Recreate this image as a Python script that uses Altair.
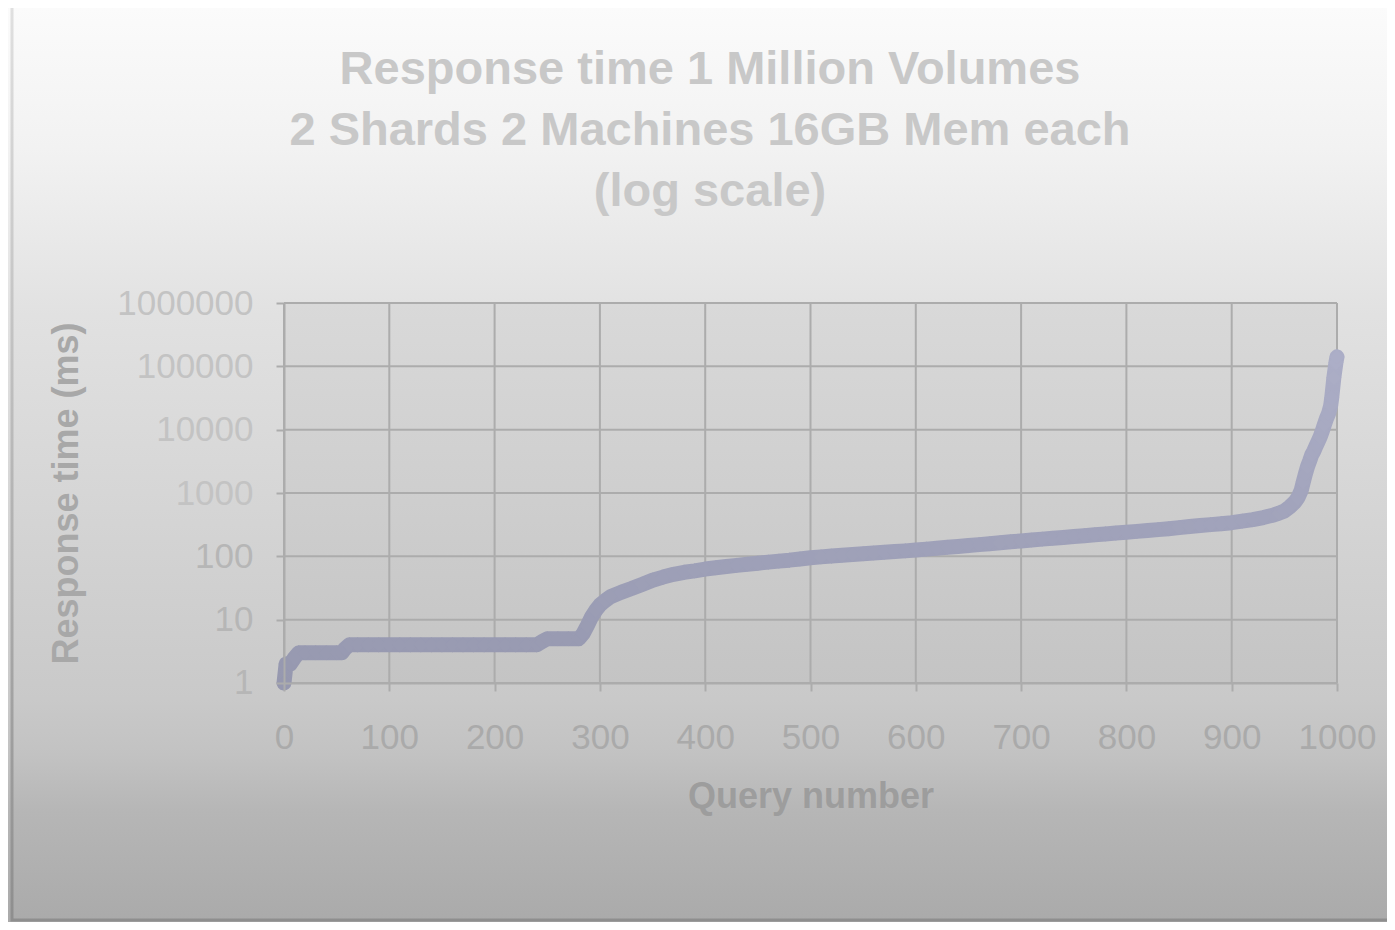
import altair as alt
import pandas as pd

# ---- data (query number -> response time in ms) ----
query = [0, 2, 6, 10, 14, 20, 30, 40, 50, 55, 58, 62, 70, 80, 90, 100, 110, 120, 130,
         140, 150, 160, 170, 180, 190, 200, 210, 220, 230, 240, 245, 250, 260, 270, 280,
         284, 288, 292, 296, 300, 305, 310, 320, 330, 340, 350, 360, 370, 380, 390, 400,
         410, 420, 430, 440, 450, 460, 470, 480, 490, 500, 510, 520, 530, 540, 550, 560,
         570, 580, 590, 600, 610, 620, 630, 640, 650, 660, 670, 680, 690, 700, 710, 720,
         730, 740, 750, 760, 770, 780, 790, 800, 810, 820, 830, 840, 850, 860, 870, 880,
         890, 900, 910, 920, 930, 940, 945, 950, 955, 960, 963, 966, 968, 970, 972, 974,
         976, 978, 980, 982, 984, 986, 988, 990, 992, 994, 995, 997, 999, 1000]
resp_ms = [1, 2, 2, 2.5, 3, 3, 3, 3, 3, 3, 3.5, 4, 4, 4, 4, 4, 4, 4, 4,
           4, 4, 4, 4, 4, 4, 4, 4, 4, 4, 4, 4.5, 5, 5, 5, 5,
           6, 8, 11, 14, 17, 20, 23, 27, 31, 36, 42, 47, 52, 56, 59, 63,
           66, 69, 72, 75, 78, 81, 84, 87, 91, 95, 98, 101, 104, 107, 110, 113,
           116, 119, 122, 126, 130, 134, 139, 143, 148, 153, 158, 164, 170, 175, 181, 187,
           193, 199, 205, 212, 219, 226, 233, 240, 248, 256, 264, 273, 284, 295, 306, 317,
           328, 340, 360, 380, 410, 450, 480, 520, 600, 720, 850, 1100, 1500, 2000, 2600, 3200,
           4000, 4600, 5500, 6500, 7700, 9500, 12000, 15000, 18000, 24000, 32000, 66000, 115000, 141000]

x_ticks = [0, 100, 200, 300, 400, 500, 600, 700, 800, 900, 1000]
y_ticks = [1, 10, 100, 1000, 10000, 100000, 1000000]

title_lines = ["Response time 1 Million Volumes",
               "2 Shards 2 Machines 16GB Mem each",
               "(log scale)"]

df = pd.DataFrame({"q": query, "ms": resp_ms})
gx = pd.DataFrame({"v": x_ticks})
gy = pd.DataFrame({"v": y_ticks})
one = pd.DataFrame({"a": [0]})

W, H = 1053, 380
PL, PT = 276, 295            # plot area starts at page x=284, y=303
TOTAL_W, TOTAL_H = 1379, 914
OX, OY = PL + 8, PT + 8      # page coords of plot origin

xscale = alt.Scale(domain=[0, 1000], nice=False, zero=False)
yscale = alt.Scale(type="log", domain=[0.99999, 1000010], nice=False)

# whole-chart gradient background
bg = alt.Chart(one).mark_rect(
    fill={"gradient": "linear", "x1": 0, "y1": 0, "x2": 0, "y2": 1,
          "stops": [{"offset": 0, "color": "#fbfbfb"},
                    {"offset": 0.15, "color": "#f2f2f2"},
                    {"offset": 0.33, "color": "#e1e1e1"},
                    {"offset": 0.74, "color": "#c9c9c9"},
                    {"offset": 0.80, "color": "#c2c2c2"},
                    {"offset": 0.86, "color": "#b6b6b6"},
                    {"offset": 1, "color": "#a8a8a8"}]}
).encode(x=alt.value(-PL), x2=alt.value(TOTAL_W - PL + 20),
         y=alt.value(-PT), y2=alt.value(TOTAL_H - PT + 20))

# outer frame
frame = alt.Chart(one).mark_rect(
    fill="transparent", strokeWidth=3,
    stroke={"gradient": "linear", "x1": 0, "y1": 0, "x2": 0, "y2": 1,
            "stops": [{"offset": 0, "color": "#e0e0e0"},
                      {"offset": 1, "color": "#8e8e8e"}]}
).encode(x=alt.value(12 - OX), x2=alt.value(TOTAL_W - PL + 40),
         y=alt.value(6 - OY), y2=alt.value(920 - OY))

# plot area
plotbg = alt.Chart(one).mark_rect(
    fill={"gradient": "linear", "x1": 0, "y1": 0, "x2": 0, "y2": 1,
          "stops": [{"offset": 0, "color": "#d9d9d9"},
                    {"offset": 1, "color": "#c4c4c4"}]}
).encode(x=alt.value(0), x2=alt.value(W), y=alt.value(0), y2=alt.value(H))

# chart title (three centred lines)
title = alt.Chart(one).mark_text(
    text=title_lines, font="Liberation Sans", fontSize=47, fontWeight="bold",
    color="#c8c8c8", lineHeight=61, align="center", baseline="middle"
).encode(x=alt.value(710 - OX), y=alt.value(70 - OY))

gridcol = "#acacac"
vgrid = alt.Chart(gx).mark_rule(color=gridcol, strokeWidth=2).encode(
    x=alt.X("v:Q", scale=xscale), y=alt.value(0), y2=alt.value(H))
hgrid = alt.Chart(gy).mark_rule(color=gridcol, strokeWidth=2).encode(
    y=alt.Y("v:Q", scale=yscale), x=alt.value(0), x2=alt.value(W))

xaxis = alt.Axis(values=x_ticks, grid=False, tickSize=8, tickWidth=2,
                 tickColor=gridcol, domainColor=gridcol, domainWidth=2,
                 labelFont="Liberation Sans", labelFontSize=35, format="d",
                 labelColor="#aaaaaa", labelPadding=29, labelFlush=False,
                 labelOverlap=False, title="Query number",
                 titleFont="Liberation Sans", titleFontSize=36,
                 titleFontWeight="bold", titleColor="#9d9d9d",
                 titleBaseline="middle", titleY=113, zindex=2)
yaxis = alt.Axis(values=y_ticks, grid=False, tickSize=8, tickWidth=2,
                 tickColor=gridcol, domainColor=gridcol, domainWidth=2,
                 labelFont="Liberation Sans", labelFontSize=35,
                 labelColor={"condition": {"test": "datum.value <= 100", "value": "#b6b6b6"},
                             "value": "#c3c3c3"},
                 labelPadding=23, labelFlush=False,
                 labelOverlap=False, labelExpr="format(datum.value, 'd')",
                 title="Response time (ms)",
                 titleFont="Liberation Sans", titleFontSize=36,
                 titleFontWeight="bold", titleColor="#a8a8a8",
                 titleAngle=-90, titleBaseline="middle", titleAlign="center",
                 titleX=-218, titleY=190, zindex=2)

band = alt.Chart(df).mark_line(
    strokeWidth=15, strokeCap="round", strokeJoin="round",
    stroke={"gradient": "linear", "x1": 0, "y1": 0, "x2": 0, "y2": 1,
            "stops": [{"offset": 0, "color": "#abadc6"},
                      {"offset": 1, "color": "#9698af"}]}
).encode(
    x=alt.X("q:Q", scale=xscale, axis=xaxis),
    y=alt.Y("ms:Q", scale=yscale, axis=yaxis),
    order="q:Q",
)

pts = alt.Chart(df).mark_point(shape="diamond", filled=True, size=230, opacity=1).encode(
    x=alt.X("q:Q", scale=xscale),
    y=alt.Y("ms:Q", scale=yscale),
    color=alt.Color("ms:Q", scale=alt.Scale(type="log", domain=[1, 1000000],
                                            range=["#9698af", "#b0b2cb"]), legend=None),
)

chart = alt.layer(bg, frame, plotbg, title, vgrid, hgrid, band, pts).properties(
    width=W, height=H,
    autosize=alt.AutoSizeParams(type="none"),
    padding={"left": PL, "top": PT, "right": TOTAL_W - PL - W, "bottom": TOTAL_H - PT - H},
).configure_view(stroke=None)

chart.save("out.html", embed_options={"renderer": "svg", "actions": False})
